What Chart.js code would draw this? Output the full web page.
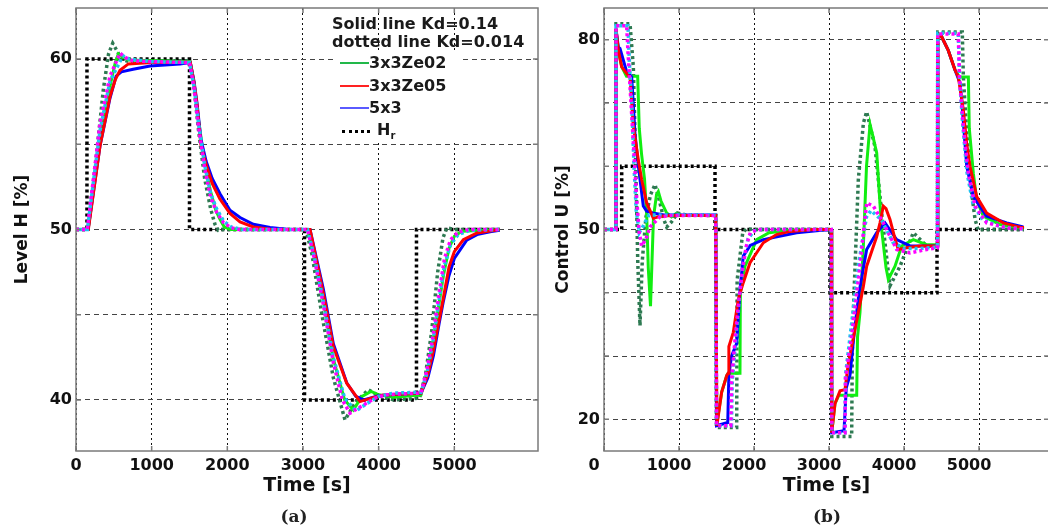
<!DOCTYPE html>
<html>
<head>
<meta charset="utf-8">
<title>Level H and Control U</title>
<script src="https://cdn.jsdelivr.net/npm/chart.js@4.4.1/dist/chart.umd.min.js"></script>
<style>
  body { margin: 0; width: 1048px; height: 528px; overflow: hidden; background: #fff; position: relative; }
  #wrapA { position: absolute; left: 0; top: 0; width: 548px; height: 528px; }
  #wrapB { position: absolute; left: 540px; top: 0; width: 510px; height: 528px; }
  .cap { position: absolute; font: bold 17px "DejaVu Serif", serif; color: #222; transform: translate(-50%, -50%); }
  .leg { position: absolute; font: bold 16px "DejaVu Sans", sans-serif; color: #1a1a1a; line-height: 18px; white-space: nowrap; }
  #legBox { position: absolute; left: 333px; top: 51px; width: 130px; height: 91px; background: #fff; }
  .sample { position: absolute; height: 0; }
</style>
</head>
<body>
<div id="wrapA"><canvas id="chartA" width="548" height="528"></canvas></div>
<div id="wrapB"><canvas id="chartB" width="510" height="528"></canvas></div>

<!-- legend of panel (a) -->
<div class="leg" style="left:332px; top:15px;">Solid line Kd=0.14</div>
<div class="leg" style="left:332px; top:33px;">dotted line Kd=0.014</div>
<div id="legBox"></div>
<div class="sample" style="left:340px; top:62px; width:29px; border-top:2px solid #22b84a;"></div>
<div class="leg" style="left:369px; top:54px;">3x3Ze02</div>
<div class="sample" style="left:340px; top:85px; width:29px; border-top:2px solid #ff2222;"></div>
<div class="leg" style="left:369px; top:77px;">3x3Ze05</div>
<div class="sample" style="left:340px; top:107px; width:29px; border-top:2px solid #5a5aff;"></div>
<div class="leg" style="left:369px; top:99px;">5x3</div>
<div class="sample" style="left:342px; top:130px; width:28px; border-top:3px dotted #000;"></div>
<div class="leg" style="left:377px; top:121px;">H<sub style="font-size:10px;">r</sub></div>

<div class="cap" style="left:294px; top:516px;">(a)</div>
<div class="cap" style="left:827px; top:516px;">(b)</div>

<script>
// ---- axis ticks ----
const xTicks = [0, 1000, 2000, 3000, 4000, 5000];
const yTicksA = [40, 45, 50, 55, 60];
const yLabelsA = [40, 50, 60];
const yTicksB = [20, 30, 40, 50, 60, 70, 80];
const yLabelsB = [20, 50, 80];

// ---- panel (a): level H [%], pairs [time s, value] ----
const hrA = [[0,50],[145,50],[145,60],[1500,60],[1500,50],[3020,50],[3020,40],[4500,40],[4500,50],[5600,50]];

const greenA = [[0,50],[160,50],[317,55.3],[449,58.4],[520,59.8],[560,60.3],[620,60.1],[700,59.95],[1000,59.9],[1510,59.85],
  [1560,58.6],[1620,56.4],[1700,53.9],[1780,52.2],[1850,51.1],[1903,50.6],[1960,50.15],[2050,50],[3060,50],[3150,48.5],
  [3269,45.8],[3401,42.4],[3550,40.0],[3665,39.41],[3780,40.2],[3900,40.5],[4000,40.3],[4200,40.15],[4560,40.3],[4650,41.8],
  [4724,43.5],[4800,45.7],[4856,47.3],[4930,48.9],[5000,49.6],[5100,49.9],[5600,50]];

const redA = [[0,50],[163,50],[317,54.9],[449,57.8],[520,58.8],[582,59.35],[692,59.72],[1000,59.8],[1510,59.82],[1560,58.6],
  [1600,57.3],[1650,55.0],[1720,53.8],[1800,52.7],[1900,51.8],[2035,50.94],[2168,50.45],[2344,50.15],[2564,50.02],[3093,50],
  [3269,46.25],[3401,43.12],[3578,40.98],[3754,39.9],[3900,40.1],[4062,40.29],[4300,40.35],[4560,40.4],[4650,41.5],[4724,42.9],
  [4800,44.7],[4856,46.0],[4930,47.8],[5000,48.7],[5119,49.4],[5300,49.8],[5600,50]];

const blueA = [[0,50],[160,50],[317,54.9],[449,57.7],[530,59.0],[600,59.25],[755,59.4],[978,59.6],[1374,59.72],[1510,59.8],
  [1560,58.7],[1600,57.4],[1650,55.3],[1720,54.0],[1800,53.0],[1903,52.1],[2035,51.13],[2168,50.7],[2344,50.31],[2564,50.12],
  [2784,50.02],[3093,50],[3269,46.5],[3401,43.3],[3578,41.0],[3700,40.2],[3800,40.0],[4000,40.25],[4300,40.35],[4560,40.4],
  [4650,41.3],[4724,42.6],[4800,44.5],[4856,45.8],[4930,47.3],[5000,48.3],[5164,49.37],[5300,49.7],[5472,49.86],[5600,49.95]];

const darkA = [[0,50],[150,50],[250,53.5],[361,58.2],[430,60.3],[485,60.93],[540,60.5],[600,60.0],[700,59.85],[1000,59.9],
  [1500,59.9],[1560,58.3],[1620,55.8],[1700,53.0],[1780,51.2],[1837,50.3],[1880,49.95],[1950,50],[3040,50],[3120,48.5],
  [3250,45.0],[3401,41.3],[3555,38.83],[3700,39.9],[3864,40.59],[4000,40.25],[4200,40.0],[4540,40.1],[4620,41.5],[4700,44],
  [4780,47.5],[4850,49.5],[4900,50.1],[5000,50],[5600,50]];

const magentaA = [[0,50],[150,50],[317,56.2],[449,59.0],[582,60.35],[650,60.1],[750,59.9],[1000,59.85],[1500,59.8],[1560,58.3],
  [1620,56.0],[1700,53.6],[1780,51.9],[1860,51.0],[1950,50.4],[2050,50.1],[2150,50],[3060,50],[3150,48.3],[3269,45.6],
  [3401,42.2],[3520,40.0],[3621,39.22],[3800,39.7],[3950,40.1],[4100,40.3],[4300,40.35],[4560,40.4],[4640,41.8],[4720,43.8],
  [4800,46.3],[4870,48.3],[4950,49.4],[5050,49.85],[5200,50],[5600,50]];

const cyanA = [[0,50],[150,50],[317,55.8],[449,58.7],[620,60.2],[700,60.0],[1000,59.85],[1500,59.8],[1560,58.4],[1620,56.2],
  [1700,53.8],[1780,52.1],[1860,51.2],[1950,50.5],[2050,50.15],[2200,50],[3060,50],[3150,48.4],[3269,45.8],[3401,42.5],
  [3550,40.1],[3700,39.35],[3850,39.8],[4000,40.2],[4200,40.4],[4560,40.45],[4640,41.6],[4720,43.5],[4800,45.9],[4870,47.9],
  [4950,49.1],[5050,49.7],[5200,49.95],[5600,50]];

// ---- panel (b): control U [%] ----
const refB = [[0,50],[236,50],[236,60],[1480,60],[1480,50],[3013,50],[3013,40],[4440,40],[4440,50],[5600,50]];

const greenB = [[0,50],[160,50],[160,81.7],[191,78.3],[236,75.7],[300,74.2],[449,74.2],[470,66],[500,62],[540,58],[570,52],
  [590,44],[620,37.9],[640,45],[660,52],[700,55.5],[724,56],[760,54.5],[836,52.6],[900,52],[960,52.5],[1050,52.2],[1490,52.2],
  [1500,19],[1569,24.3],[1636,26.9],[1655,27.3],[1813,27.3],[1818,40],[1880,44.2],[2036,48.4],[2200,49.5],[2500,49.9],[3030,50],
  [3036,17.9],[3080,22.5],[3130,23.8],[3369,23.8],[3380,33],[3413,36.9],[3458,47.4],[3500,60],[3547,66.6],[3580,65],[3636,62.1],
  [3702,50],[3760,44],[3791,42.1],[3880,44.2],[3969,47.4],[4124,48.4],[4302,47.6],[4445,47.6],[4450,80.8],[4500,80.5],
  [4590,78.3],[4680,75.2],[4740,74.1],[4858,74.1],[4870,66],[4924,58.9],[4969,54.7],[5058,52.1],[5280,50.8],[5600,50.2]];

const redB = [[0,50],[160,50],[160,81.7],[191,78.3],[236,75.7],[324,74.3],[347,74.1],[391,66.3],[458,61.0],[502,57.9],
  [569,54.2],[658,51.8],[750,52.1],[900,52.2],[1490,52.2],[1505,19.0],[1569,24.3],[1636,26.9],[1655,27.3],[1665,31.5],
  [1724,33.75],[1791,39.0],[1857,41.6],[1947,44.76],[2124,47.9],[2300,49.2],[2480,49.7],[2800,50],[3030,50],[3036,17.9],
  [3080,22.5],[3147,24.5],[3213,24.7],[3258,28.9],[3347,34.2],[3458,41.0],[3502,44.2],[3636,48.9],[3680,51.05],[3724,53.7],
  [3760,53.3],[3813,51.6],[3880,48.5],[3924,46.85],[4036,47.1],[4213,47.4],[4445,47.4],[4450,80.8],[4500,80.5],[4590,78.3],
  [4680,75.2],[4724,74.1],[4791,68.9],[4836,63.5],[4880,60.0],[4969,55.2],[5102,52.6],[5324,51.05],[5569,50.3],[5600,50.3]];

const blueB = [[0,50],[160,50],[160,81.7],[191,78.8],[213,78.6],[300,75],[369,74.1],[413,65.2],[458,60.0],[524,53.7],
  [569,52.9],[650,52.6],[800,52.3],[1490,52.3],[1500,19],[1650,19.5],[1665,27],[1700,30],[1769,32],[1810,40],[1857,45.8],
  [1950,47.5],[2124,48.4],[2569,49.5],[2900,49.9],[3030,50],[3036,17.9],[3200,18.2],[3230,25],[3280,27],[3330,33],[3400,40],
  [3502,46.85],[3636,49.5],[3747,51.05],[3902,48.4],[4080,47.4],[4445,47.4],[4450,80.8],[4500,80.5],[4590,78.3],[4680,75.2],
  [4747,73.1],[4769,70.4],[4836,60],[4924,55.2],[5102,52.1],[5369,51.05],[5591,50.4]];

const darkB = [[0,50],[160,50],[160,82.5],[347,82.5],[391,75.7],[420,62],[450,45],[480,34.8],[510,45],[560,52],[620,55.5],
  [680,57.1],[740,54.5],[800,51.5],[836,50.4],[900,51.2],[980,52.6],[1100,52.3],[1490,52.2],[1500,18.7],[1769,18.7],[1775,42],
  [1850,49.5],[1900,50.1],[2000,50],[3030,50],[3036,17.3],[3302,17.3],[3310,30],[3324,36.9],[3391,57.9],[3458,66.8],
  [3502,68.6],[3613,63.1],[3702,52.6],[3791,43.2],[3813,41.1],[3947,44.2],[4124,49.5],[4302,47.4],[4445,47.4],[4450,81.2],
  [4777,81.2],[4791,74.1],[4836,65.2],[4902,55.8],[4947,51.6],[4990,49.9],[5050,50],[5600,50]];

const magentaB = [[0,50],[160,50],[160,82.2],[302,82.2],[320,78],[360,70],[400,62],[436,54.7],[470,49.5],[502,47.4],
  [560,48.5],[613,50.4],[747,52],[900,52.2],[1490,52.2],[1500,19],[1690,19],[1700,26],[1750,33],[1800,39],[1850,44],
  [1900,47.5],[1950,49.5],[2050,50],[3030,50],[3036,17.9],[3213,17.9],[3220,26.5],[3300,33],[3400,43],[3502,54.2],[3591,53.7],
  [3724,51.05],[3902,46.85],[4080,46.3],[4302,46.85],[4445,47.1],[4450,80.9],[4724,80.9],[4740,74],[4791,66.3],[4858,58.9],
  [4947,53.7],[5102,51.05],[5400,50.2],[5600,50.1]];

const cyanB = [[0,50],[160,50],[160,82.2],[320,82.2],[340,76],[370,70],[400,60],[430,53],[470,49.5],[520,50.5],[600,52.3],
  [1490,52.3],[1500,19],[1700,19],[1710,26],[1760,33],[1810,40],[1860,45],[1920,48.5],[2000,49.8],[2100,50],[3030,50],
  [3036,17.9],[3213,17.9],[3220,27],[3300,35],[3400,45],[3500,52],[3560,53],[3700,51.5],[3850,48],[4000,47],[4200,47],
  [4445,47.2],[4450,81],[4724,81],[4740,74],[4780,67],[4840,59],[4920,54],[5050,51.5],[5300,50.4],[5600,50.1]];

function pts(arr) {
  return arr.map(p => ({ x: p[0], y: p[1] }));
}

// dotted or solid curve
function curve(data, color, dotted, offset) {
  return {
    data: pts(data),
    borderColor: color,
    borderWidth: dotted ? 3.5 : 3,
    borderDash: dotted ? [3, 3] : [],
    borderDashOffset: offset || 0,
    pointRadius: 0,
    tension: 0,
    fill: false
  };
}

// box around the plot with small inward ticks (matlab style)
const framePlugin = {
  id: 'frame',
  afterDatasetsDraw(chart) {
    const { ctx, chartArea: a, scales } = chart;
    ctx.save();
    ctx.strokeStyle = '#7a7a7a';
    ctx.lineWidth = 1.5;
    ctx.setLineDash([]);
    ctx.strokeRect(a.left, a.top, a.right - a.left, a.bottom - a.top);
    ctx.beginPath();
    scales.y.ticks.forEach(t => {
      const y = scales.y.getPixelForValue(t.value);
      ctx.moveTo(a.left, y); ctx.lineTo(a.left + 5, y);
      ctx.moveTo(a.right, y); ctx.lineTo(a.right - 5, y);
    });
    scales.x.ticks.forEach(t => {
      const x = scales.x.getPixelForValue(t.value);
      ctx.moveTo(x, a.bottom); ctx.lineTo(x, a.bottom - 5);
      ctx.moveTo(x, a.top); ctx.lineTo(x, a.top + 5);
    });
    ctx.stroke();
    ctx.restore();
  }
};

function makeChart(id, sets, opt) {
  const tickFont = { family: 'DejaVu Sans', weight: 'bold', size: 16 };
  return new Chart(document.getElementById(id), {
    type: 'line',
    data: { datasets: sets },
    plugins: [framePlugin],
    options: {
      responsive: false,
      animation: false,
      devicePixelRatio: 1,
      layout: { padding: { top: 8, right: opt.padRight, left: 0, bottom: 0 } },
      plugins: { legend: { display: false }, tooltip: { enabled: false } },
      scales: {
        x: {
          type: 'linear',
          min: 0,
          max: opt.xMax,
          afterBuildTicks: s => { s.ticks = xTicks.map(v => ({ value: v })); },
          afterFit: s => { s.height = 77; s.paddingLeft = 0; s.paddingRight = 0; },
          grid: { color: '#111', lineWidth: 1, drawTicks: false },
          border: { display: false, dash: [2, 3] },
          ticks: {
            color: '#111', font: tickFont, padding: 5, maxRotation: 0,
            labelOffset: opt.xLabelOffset,
            callback: v => String(v)
          },
          title: {
            display: true, text: 'Time [s]', color: '#111',
            font: { family: 'DejaVu Sans', weight: 'bold', size: 19 },
            padding: { top: 0, bottom: 31 }
          }
        },
        y: {
          min: opt.yMin,
          max: opt.yMax,
          afterBuildTicks: s => { s.ticks = opt.yTicks.map(v => ({ value: v })); },
          // fixed width, no extra room for half labels at the ends
          afterFit: s => { s.width = opt.yWidth; s.paddingTop = 0; s.paddingBottom = 0; },
          grid: { color: '#444', lineWidth: 1, drawTicks: false },
          border: { display: false, dash: [5, 4] },
          ticks: {
            color: '#111', font: tickFont, padding: 4,
            callback: v => opt.yLabels.includes(v) ? String(v) : ''
          },
          title: {
            display: true, text: opt.yTitle, color: '#111',
            font: { family: 'DejaVu Sans', weight: 'bold', size: 17 },
            padding: { top: opt.yTitlePad, bottom: 0 }
          }
        }
      }
    }
  });
}

document.addEventListener('DOMContentLoaded', () => {
  // first dataset is drawn on top
  makeChart('chartA', [
    curve(magentaA, '#ff00ff', true, 0),
    curve(cyanA, '#1ec3f2', true, 3),
    curve(redA, '#ff0000', false),
    curve(blueA, '#0000ff', false),
    curve(greenA, '#11ee11', false),
    curve(darkA, '#2e7a52', true, 0),
    curve(hrA, '#000000', true, 0)
  ], {
    padRight: 10, xMax: 6106, xLabelOffset: 0,
    yMin: 37, yMax: 63, yTicks: yTicksA, yLabels: yLabelsA,
    yWidth: 76, yTitle: 'Level H [%]', yTitlePad: 12
  });

  makeChart('chartB', [
    curve(magentaB, '#ff00ff', true, 0),
    curve(cyanB, '#1ec3f2', true, 3),
    curve(redB, '#ff0000', false),
    curve(blueB, '#0000ff', false),
    curve(greenB, '#11ee11', false),
    curve(darkB, '#2e7a52', true, 0),
    curve(refB, '#000000', true, 0)
  ], {
    padRight: 1, xMax: 5933, xLabelOffset: -10,
    yMin: 15, yMax: 85, yTicks: yTicksB, yLabels: yLabelsB,
    yWidth: 64, yTitle: 'Control U [%]', yTitlePad: 13
  });
});
</script>
</body>
</html>
